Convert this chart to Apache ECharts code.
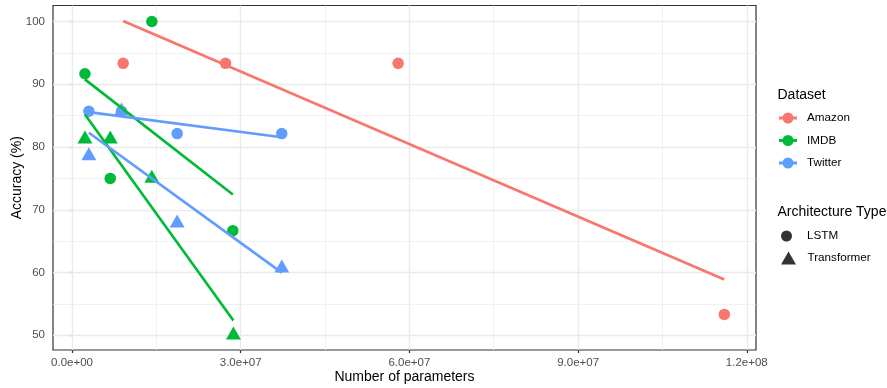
<!DOCTYPE html>
<html>
<head>
<meta charset="utf-8">
<script src="https://cdn.jsdelivr.net/npm/echarts@6/dist/echarts.min.js"></script>
<style>
html,body{margin:0;padding:0;background:#fff;}
#chart{width:887px;height:388px;}
</style>
</head>
<body>
<div id="chart"></div>
<script>
// ---- data ----
const datasets = ['Amazon', 'IMDB', 'Twitter'];
const archTypes = ['LSTM', 'Transformer'];
const datasetColors = ['#F8766D', '#00BA38', '#619CFF'];

const amazonLstmParams = [9.1e6, 2.73e7, 5.8e7, 1.16e8];
const amazonLstmAcc = [93.33, 93.33, 93.33, 53.33];

const imdbLstmParams = [2.3e6, 6.8e6, 1.42e7, 2.86e7];
const imdbLstmAcc = [91.67, 75.0, 100.0, 66.67];
const imdbTransParams = [2.3e6, 6.8e6, 1.42e7, 2.87e7];
const imdbTransAcc = [81.25, 81.25, 75.0, 50.0];

const twitterLstmParams = [3.0e6, 8.8e6, 1.87e7, 3.73e7];
const twitterLstmAcc = [85.71, 85.71, 82.14, 82.14];
const twitterTransParams = [3.0e6, 8.8e6, 1.87e7, 3.73e7];
const twitterTransAcc = [78.57, 85.71, 67.86, 60.71];

const xTickValues = [0, 3e7, 6e7, 9e7, 1.2e8];
const xTickLabels = ['0.0e+00', '3.0e+07', '6.0e+07', '9.0e+07', '1.2e+08'];
const xMinorValues = [1.5e7, 4.5e7, 7.5e7, 1.05e8];
const yTickValues = [50, 60, 70, 80, 90, 100];
const yTickLabels = ['50', '60', '70', '80', '90', '100'];
const yMinorValues = [55, 65, 75, 85, 95];

// ---- groups ----
const groups = [
  {ds: 0, arch: 0, x: amazonLstmParams, y: amazonLstmAcc},
  {ds: 1, arch: 0, x: imdbLstmParams, y: imdbLstmAcc},
  {ds: 2, arch: 0, x: twitterLstmParams, y: twitterLstmAcc},
  {ds: 1, arch: 1, x: imdbTransParams, y: imdbTransAcc},
  {ds: 2, arch: 1, x: twitterTransParams, y: twitterTransAcc}
];

function lmLine(xs, ys) {
  const n = xs.length;
  const mx = xs.reduce((a, b) => a + b, 0) / n;
  const my = ys.reduce((a, b) => a + b, 0) / n;
  let sxy = 0, sxx = 0;
  for (let i = 0; i < n; i++) { sxy += (xs[i] - mx) * (ys[i] - my); sxx += (xs[i] - mx) * (xs[i] - mx); }
  const b = sxy / sxx, a = my - b * mx;
  const x0 = Math.min(...xs), x1 = Math.max(...xs);
  return [[x0, a + b * x0], [x1, a + b * x1]];
}

const FONT = 'Liberation Sans';
const series = [];

// grid lines
const gridLines = [];
xTickValues.forEach(v => gridLines.push({xAxis: v, lineStyle: {width: 1.4}}));
xMinorValues.forEach(v => gridLines.push({xAxis: v, lineStyle: {width: 0.7}}));
yTickValues.forEach(v => gridLines.push({yAxis: v, lineStyle: {width: 1.4}}));
yMinorValues.forEach(v => gridLines.push({yAxis: v, lineStyle: {width: 0.7}}));
series.push({
  name: 'grid', type: 'line', data: [], z: 1, silent: true,
  markLine: {silent: true, z: 1, symbol: ['none', 'none'], label: {show: false},
    lineStyle: {color: '#EBEBEB', type: 'solid'}, data: gridLines, animation: false}
});

// points: circles first, then triangles
groups.slice().sort((a, b) => a.arch - b.arch).forEach(g => {
  const isTri = g.arch === 1;
  series.push({
    name: datasets[g.ds], type: 'scatter', z: 10,
    symbol: isTri ? 'triangle' : 'circle',
    symbolSize: isTri ? [15, 13] : 11.5,
    symbolOffset: isTri ? [0, -2.2] : [0, 0],
    itemStyle: {color: datasetColors[g.ds], opacity: 1},
    data: g.x.map((v, i) => [v, g.y[i]])
  });
});

// regression lines
[0, 1, 2].forEach(d => {
  groups.filter(g => g.ds === d).forEach(g => {
    series.push({
      name: datasets[d], type: 'line', z: 11 + d, showSymbol: false, symbol: 'none',
      lineStyle: {color: datasetColors[d], width: 2.7}, itemStyle: {color: datasetColors[d]},
      data: lmLine(g.x, g.y)
    });
  });
});

// dummy series for shape legend
series.push({name: 'LSTM', type: 'scatter', symbol: 'circle', itemStyle: {color: '#000'}, data: []});
series.push({name: 'Transformer', type: 'scatter', symbol: 'triangle', itemStyle: {color: '#000'}, data: []});

const keyPath = 'path://M0,4.1L18,4.1L18,6.9L0,6.9Z M3.5,5.5A5.5,5.5 0 1 1 14.5,5.5A5.5,5.5 0 1 1 3.5,5.5Z';

const option = {
  animation: false,
  backgroundColor: '#fff',
  textStyle: {fontFamily: FONT},
  title: [
    {text: 'Dataset', left: 777.5, top: 88, padding: 0,
      textStyle: {fontFamily: FONT, fontSize: 14, fontWeight: 'normal', color: '#000'}},
    {text: 'Architecture Type', left: 777.5, top: 205, padding: 0,
      textStyle: {fontFamily: FONT, fontSize: 14, fontWeight: 'normal', color: '#000'}}
  ],
  legend: [
    {data: datasets.map(n => ({name: n, icon: keyPath})), orient: 'vertical',
      left: 779, top: 112, itemWidth: 18, itemHeight: 11, itemGap: 10.5, padding: 0,
      textStyle: {fontFamily: FONT, fontSize: 11.7, color: '#000', padding: [0, 0, 0, 5], lineHeight: 12}},
    {data: [{name: 'LSTM', icon: 'circle'}], left: 781, top: 230, itemWidth: 11, itemHeight: 11, padding: 0,
      textStyle: {fontFamily: FONT, fontSize: 11.7, color: '#000', padding: [0, 0, 0, 10], lineHeight: 12}},
    {data: [{name: 'Transformer', icon: 'triangle'}], left: 781, top: 251.5, itemWidth: 15, itemHeight: 13, padding: 0,
      textStyle: {fontFamily: FONT, fontSize: 11.7, color: '#000', padding: [0, 0, 0, 6.5], lineHeight: 13}}
  ],
  grid: {left: 53, top: 5.5, width: 703, height: 344.5, show: true, outerBoundsMode: 'none',
    borderColor: '#333333', borderWidth: 1.2, backgroundColor: '#fff', containLabel: false},
  xAxis: {
    type: 'value', min: -3.38e6, max: 1.2164e8,
    name: 'Number of parameters', nameLocation: 'middle', nameGap: 20, nameMoveOverlap: false,
    nameTextStyle: {fontFamily: FONT, fontSize: 14, color: '#000'},
    axisLine: {show: false},
    axisTick: {show: true, length: 3, customValues: xTickValues, lineStyle: {color: '#333333', width: 1.2}},
    axisLabel: {show: true, customValues: xTickValues, margin: 7, fontFamily: FONT, fontSize: 11.5, color: '#4D4D4D',
      formatter: v => { const i = xTickValues.findIndex(t => Math.abs(t - v) < 1); return i >= 0 ? xTickLabels[i] : ''; }},
    splitLine: {show: false}
  },
  yAxis: {
    type: 'value', min: 47.66, max: 102.55,
    name: 'Accuracy (%)', nameLocation: 'middle', nameGap: 29, nameRotate: 90, nameMoveOverlap: false,
    nameTextStyle: {fontFamily: FONT, fontSize: 14, color: '#000'},
    axisLine: {show: false},
    axisTick: {show: true, length: 3, customValues: yTickValues, lineStyle: {color: '#333333', width: 1.2}},
    axisLabel: {show: true, customValues: yTickValues, margin: 8, fontFamily: FONT, fontSize: 11.5, color: '#4D4D4D',
      formatter: v => { const i = yTickValues.findIndex(t => Math.abs(t - v) < 1e-6); return i >= 0 ? yTickLabels[i] : ''; }},
    splitLine: {show: false}
  },
  series: series
};

const chart = echarts.init(document.getElementById('chart'), null, {renderer: 'canvas'});
chart.setOption(option);
</script>
</body>
</html>
